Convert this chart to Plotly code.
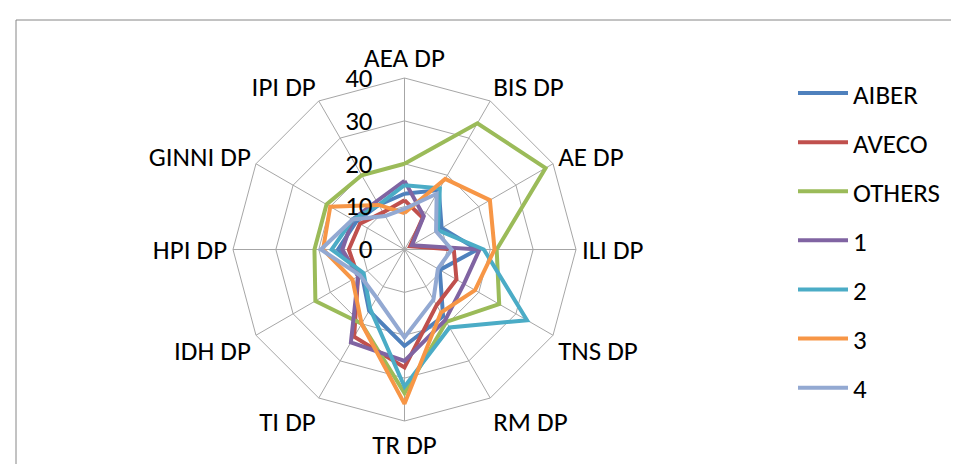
import plotly.graph_objects as go

# categories around the radar, clockwise from the top
categories = ['AEA DP', 'BIS DP', 'AE DP', 'ILI DP', 'TNS DP', 'RM DP',
              'TR DP', 'TI DP', 'IDH DP', 'HPI DP', 'GINNI DP', 'IPI DP']

aiber  = [13, 16, 10, 17, 9.5, 18, 22.5, 16.5, 11.5, 15.5, 13, 12]
aveco  = [11.5, 8.5, 1.5, 11.5, 14, 15, 27.5, 23.5, 12.5, 13, 12, 10]
others = [20, 34, 38, 21.5, 25.5, 19.5, 33.5, 20, 24, 21, 21, 20]
g1     = [16, 9, 2, 17.5, 16, 19, 26, 25, 12.5, 14.5, 14, 13]
g2     = [15, 16.5, 9, 18.5, 33, 21, 32, 16, 11, 17, 14, 12]
g3     = [8.5, 19, 23, 21, 19, 17, 36, 20, 14, 19, 20, 12]
g4     = [9.5, 15, 8.5, 11, 9, 13.5, 20.5, 13, 12, 19.5, 14, 9]

series_names = ['AIBER', 'AVECO', 'OTHERS', '1', '2', '3', '4']
series_vals = [aiber, aveco, others, g1, g2, g3, g4]
colors = ['#4F81BD', '#C0504D', '#9BBB59', '#8064A2', '#4BACC6', '#F79646', '#93A9D2']

W, H = 959, 464
cx, cy, R = 396.5, 241.5, 171.5

fig = go.Figure()
for i in range(len(series_names)):
    vals = series_vals[i]
    fig.add_trace(go.Scatterpolar(
        r=vals + [vals[0]], theta=categories + [categories[0]],
        mode='lines', name=series_names[i],
        line=dict(color=colors[i], width=4),
        legendgroup=series_names[i]))

font = 'Carlito, Calibri, Lato, sans-serif'
fig.update_layout(
    width=W, height=H,
    margin=dict(l=0, r=0, t=0, b=0),
    paper_bgcolor='white',
    font=dict(family=font, size=27, color='#000000'),
    polar=dict(
        domain=dict(x=[(cx - R) / W, (cx + R) / W],
                    y=[1 - (cy + R) / H, 1 - (cy - R) / H]),
        bgcolor='white',
        gridshape='linear',
        angularaxis=dict(rotation=90, direction='clockwise',
                         linecolor='#A6A6A6', gridcolor='#A6A6A6',
                         tickfont=dict(size=27), ticks=''),
        # invisible ticks just push the labels off the vertical spoke
        radialaxis=dict(range=[0, 40], dtick=10, angle=90,
                        showline=False, gridcolor='#A6A6A6',
                        ticks='outside', ticklen=22, tickcolor='rgba(0,0,0,0)',
                        tickfont=dict(size=27), tickangle=90,
                        side='counterclockwise')),
    legend=dict(x=785 / W, y=1 - 61 / H, xanchor='left', yanchor='top',
                font=dict(size=27), tracegroupgap=11, itemwidth=50),
    shapes=[dict(type='rect', xref='paper', yref='paper',
                 x0=8 / W, x1=1.05, y0=-0.05, y1=1 - 12 / H,
                 line=dict(color='#868686', width=1))],
)

fig.write_html('out.html')
